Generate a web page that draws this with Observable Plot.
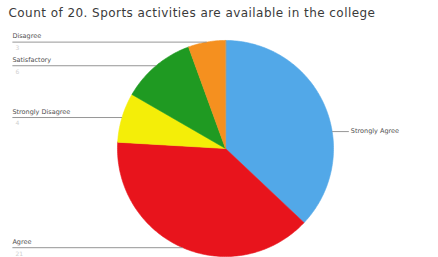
<!DOCTYPE html>
<html>
<head>
<meta charset="utf-8">
<script src="https://cdn.jsdelivr.net/npm/d3@7"></script>
<script src="https://cdn.jsdelivr.net/npm/@observablehq/plot@0.6"></script>
<style>
  html, body { margin: 0; padding: 0; background: #fff; }
  #chart { width: 438px; height: 257px; overflow: hidden; }
  svg { display: block; }
  .chart-title text { letter-spacing: 0.45px; }
</style>
</head>
<body>
<div id="chart"></div>
<script>
const title = "Count of 20. Sports activities are available in the college";
const categories = ["Strongly Agree", "Agree", "Strongly Disagree", "Satisfactory", "Disagree"];
const counts = [20, 21, 4, 6, 3];
const sliceColors = ["#52a8e8", "#e8141c", "#f4ee08", "#1f9a22", "#f5901f"];
const labelSide = ["right", "left", "left", "left", "left"];

const total = d3.sum(counts);
// angles clockwise from 12 o'clock, in data order (Excel-style)
let acc = 0;
const slices = categories.map((name, i) => {
  const a0 = acc / total * 2 * Math.PI;
  acc += counts[i];
  const a1 = acc / total * 2 * Math.PI;
  return {name, count: counts[i], a0, a1, mid: (a0 + a1) / 2, side: labelSide[i]};
});

// polygon points on the unit circle for each slice
const polyPts = [];
for (const s of slices) {
  polyPts.push({name: s.name, x: 0, y: 0});
  const n = Math.max(2, Math.ceil((s.a1 - s.a0) / (Math.PI / 180)));
  for (let k = 0; k <= n; k++) {
    const a = s.a0 + (s.a1 - s.a0) * k / n;
    polyPts.push({name: s.name, x: Math.sin(a), y: Math.cos(a)});
  }
}

const xDom = [-2.083, 1.972];
const yDom = [-1.009, 1.370];

const labels = slices.map(s => {
  const left = s.side === "left";
  // right-hand leader sits a little lower on the rim
  const a = left ? s.mid : s.mid + 0.25;
  const ex = Math.sin(a), ey = Math.cos(a);
  return {
    name: s.name, count: s.count, y: ey, ex, ey,
    lx1: left ? xDom[0] + 0.11 : ex,
    lx2: left ? ex : xDom[1] - 0.83,
    left
  };
});

const font = "DejaVu Sans, Liberation Sans, Arial, sans-serif";
const plot = Plot.plot({
  width: 438,
  height: 257,
  margin: 0,
  x: {domain: xDom, axis: null},
  y: {domain: yDom, axis: null},
  color: {domain: categories, range: sliceColors},
  style: {background: "#fff"},
  marks: [
    Plot.line(polyPts, {x: "x", y: "y", z: "name", fill: "name", stroke: "name", strokeWidth: 0.6, curve: "linear-closed"}),
    // leader lines
    Plot.link(labels, {x1: "lx1", x2: "lx2", y1: "y", y2: "y", stroke: "#8a8a8a", strokeWidth: 0.9}),
    // label text (left side)
    Plot.text(labels.filter(d => d.left), {x: "lx1", y: "y", text: "name", textAnchor: "start", dy: -6, fontSize: 6.5, fill: "#505050", fontFamily: font}),
    Plot.text(labels.filter(d => d.left), {x: "lx1", y: "y", text: d => String(d.count), textAnchor: "start", dy: 6, dx: 3, fontSize: 6, fill: "#d0d0d0", fontFamily: font}),
    // label text (right side)
    Plot.text(labels.filter(d => !d.left), {x: "lx2", y: "y", text: "name", textAnchor: "start", dx: 2, dy: -1, fontSize: 6.5, fill: "#505050", fontFamily: font}),
    // title
    Plot.text([title], {frameAnchor: "top-left", text: d => d, dx: 8, dy: 8, fontSize: 12, fill: "#3a3a3a", fontFamily: font, lineAnchor: "top", className: "chart-title"})
  ]
});
document.getElementById("chart").appendChild(plot);
</script>
</body>
</html>
